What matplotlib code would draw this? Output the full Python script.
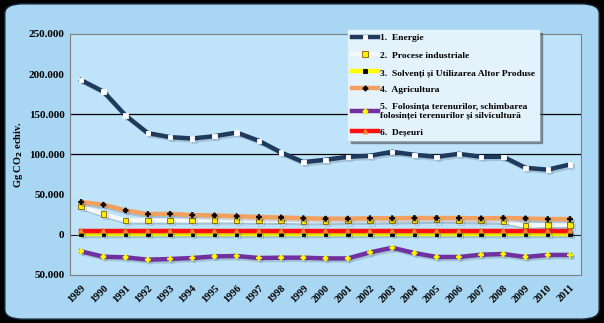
import matplotlib
matplotlib.use("Agg")
import matplotlib.pyplot as plt
import matplotlib.patheffects as pe
from matplotlib.patches import FancyBboxPatch
from matplotlib.lines import Line2D

plt.rcParams["font.family"] = ["Liberation Serif", "DejaVu Serif"]
plt.rcParams["font.weight"] = "bold"

years = [str(y) for y in range(1989, 2012)]

energie = [192.4, 178.2, 148.4, 126.5, 121.5, 119.8, 122.7, 127.2, 116.9, 102.4,
           90.4, 93.3, 97.0, 98.3, 103.2, 99.5, 97.0, 100.7, 97.0, 97.0,
           83.3, 81.0, 87.5]
procese = [35.2, 25.7, 17.8, 17.8, 17.8, 17.8, 18.0, 18.0, 17.5, 17.5,
           17.0, 17.0, 17.5, 17.5, 18.0, 18.5, 18.7, 18.5, 18.0, 17.4,
           11.2, 12.4, 12.4]
solventi = [1.0] * 23
agricultura = [40.7, 37.3, 30.2, 25.7, 26.0, 24.5, 24.0, 23.0, 22.0, 21.5,
               20.5, 20.0, 20.0, 20.5, 20.5, 20.8, 20.8, 20.8, 20.3, 20.8,
               20.3, 19.5, 19.5]
lulucf = [-20.7, -27.4, -28.2, -31.1, -30.2, -29.0, -27.0, -26.5, -29.0, -28.6,
          -28.6, -29.5, -29.5, -22.0, -16.2, -22.8, -27.7, -27.7, -24.9, -24.0,
          -27.7, -25.2, -25.2]
deseuri = [5.0] * 23

labels = [
    "1.  Energie",
    "2.  Procese industriale",
    "3.  Solvenți și Utilizarea Altor Produse",
    "4.  Agricultura",
    "5.  Folosința terenurilor, schimbarea\nfolosinței terenurilor și silvicultură",
    "6.  Deșeuri",
]

yticks = [-50, 0, 50, 100, 150, 200, 250]
ytick_labels = ["50.000", "0", "50.000", "100.000", "150.000", "200.000", "250.000"]

fig = plt.figure(figsize=(6.04, 3.23), dpi=100)
fig.patch.set_facecolor("black")
frame = FancyBboxPatch((0.008, 0.012), 0.984, 0.976,
                       boxstyle="round,pad=0,rounding_size=0.03",
                       transform=fig.transFigure, facecolor="#a9d6f2",
                       edgecolor="#1a2a3a", linewidth=1.0, zorder=-10)
fig.patches.append(frame)

ax = fig.add_axes([0.116, 0.149, 0.846, 0.746])
ax.set_zorder(1)
ax.set_facecolor("#bfe3f9")
x = list(range(len(years)))

shadow = [pe.SimpleLineShadow(offset=(1.5, -1.5), alpha=0.18, shadow_color="#203040"), pe.Normal()]

series = [
    (energie, "#1f3a5c", "s", "white", "white", 3.2),
    (procese, "#f4f8fb", "s", "#ffee00", "#806000", 4),
    (solventi, "#ffff00", "s", "black", "black", 2.5),
    (agricultura, "#f2a060", "P", "black", "black", 3.5),
    (lulucf, "#7030a0", "P", "#ffff00", "#ffff00", 3.5),
    (deseuri, "#ff1010", "^", "#f08a30", "#f08a30", 3.5),
]

handles = []
for vals, col, mk, mfc, mec, ms in series:
    ax.plot(x, vals, color=col, lw=3.2, marker=mk, ms=ms, mfc=mfc, mec=mec,
            mew=0.6, path_effects=shadow, zorder=3)
    handles.append(Line2D([0], [0], color=col, lw=3.2, marker=mk, ms=ms,
                          mfc=mfc, mec=mec, mew=0.6))

ax.axhline(0, color="#222222", lw=0.8, zorder=2)
for g in [100, 150]:
    ax.axhline(g, color="black", lw=0.9, zorder=1)

ax.set_xlim(-0.5, len(years) - 0.5)
ax.set_ylim(-50, 250)
ax.set_yticks(yticks)
ax.set_yticklabels(ytick_labels, fontsize=8, fontweight="bold")
ax.set_xticks(x)
ax.set_xticklabels(years, rotation=45, ha="right", rotation_mode="anchor",
                   fontsize=7.5, fontweight="bold")
ax.tick_params(axis="both", length=0, pad=4)
ax.tick_params(axis="x", pad=6)
for s in ax.spines.values():
    s.set_color("#808080")
    s.set_linewidth(0.8)

fig.text(0.03, 0.52, "Gg CO$_2$ echiv.", rotation=90, ha="center", va="center",
         fontsize=7.5, fontweight="bold")

leg = fig.legend(handles, labels, loc="upper left",
                 bbox_to_anchor=(0.576, 0.907), borderaxespad=0,
                 handlelength=2.8, labelspacing=0.9, handletextpad=0.2,
                 borderpad=0.4, fancybox=False, shadow=True, framealpha=1,
                 prop={"family": ["Liberation Serif"], "weight": "bold", "size": 6.8})
leg.set_zorder(5)
leg.get_frame().set_facecolor("#e4f2fb")
leg.get_frame().set_edgecolor("#e4f2fb")

fig.savefig("out.png", dpi=100, facecolor=fig.get_facecolor())
